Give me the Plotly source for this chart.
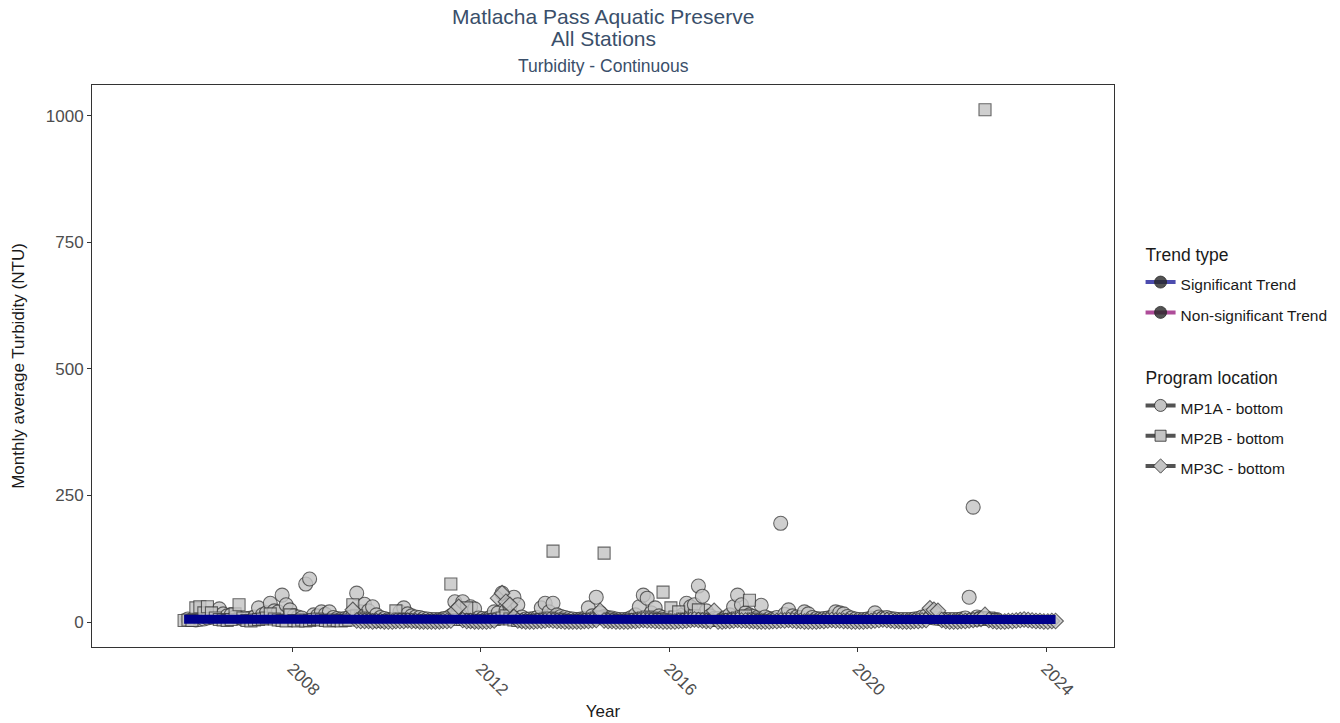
import pandas as pd
import plotly.graph_objects as go

# Monthly average turbidity (NTU) by program location
mp1a_start = "2005-10-01"
mp1a_values = [
    6, 5, 4,
    5, 6, 8, 10, 14, 26, 16, 12, 14, 10, 8, 6,
    7, 8, 10, 28, 14, 18, 37, 22, 20, 53, 34, 24,
    12, 10, 8, 75, 85, 14, 12, 20, 15, 20, 9, 7,
    6, 7, 9, 12, 57, 20, 35, 22, 30, 14, 9, 7,
    5, 5, 6, 20, 28, 16, 12, 10, 9, 7, 6, 5,
    5, 5, 6, 8, 12, 40, 22, 40, 15, 30, 26, 8,
    7, 6, 9, 20, 18, 57, 22, 30, 49, 34, 10, 6,
    6, 7, 9, 28, 37, 20, 37, 14, 11, 9, 7, 6,
    5, 6, 7, 28, 12, 49, 18, 11, 9, 8, 6, 5,
    5, 6, 9, 14, 30, 53, 47, 18, 28, 12, 9, 7,
    7, 6, 9, 14, 37, 30, 34, 71, 51, 22, 12, 7,
    7, 6, 9, 14, 30, 53, 34, 18, 14, 11, 9, 33,
    10, 7, 6, 9, 195, 15, 24, 12, 10, 9, 20, 16,
    9, 7, 6, 7, 8, 10, 20, 18, 16, 11, 8, 6,
    5, 5, 6, 8, 18, 10, 8, 9, 7, 6, 5, 5,
    5, 5, 6, 7, 10, 12, 9, 8, 7, 6, 5, 5,
    5, 5, 6, 8, 49, 227, 10, 8, 7, 6, 5, 5,
]

mp2b_start = "2005-09-01"
mp2b_values = [
    3, 4, 3, 28,
    30, 18, 30, 18, 8, 5, 4, 3, 5, 16, 34, 8,
    3, 2, 4, 5, 6, 8, 16, 6, 4, 3, 2, 14,
    3, 2, 4, 2, 3, 5, 6, 4, 3, 2, 4, 3,
    2, 3, 4, 34, 12, 8, 6, 4, 3, 2, 2, 3,
    3, 4, 22, 6, 5, 4, 3, 3, 2, 2, 3, 3,
    2, 3, 4, 8, 75, 10, 5, 5, 28, 3, 2, 2,
    3, 3, 4, 5, 6, 8, 12, 6, 4, 3, 3, 2,
    3, 3, 4, 5, 6, 8, 140, 6, 4, 3, 3, 2,
    3, 3, 4, 5, 6, 8, 10, 136, 6, 4, 3, 3,
    3, 3, 4, 5, 6, 8, 10, 8, 6, 5, 59, 6,
    28, 10, 20, 6, 5, 8, 12, 24, 6, 4, 3, 3,
    3, 3, 4, 5, 6, 8, 10, 12, 43, 6, 4, 3,
]
mp2b_late_start = "2022-06-01"
mp2b_late_values = [4, 5, 6, 1012, 8, 5]

mp3c_start = "2009-04-01"
mp3c_values = [
    24, 3, 2, 2, 2, 1, 2, 2, 1,
    1, 1, 2, 2, 2, 3, 2, 2, 1, 1, 1, 1,
    1, 1, 2, 2, 3, 22, 30, 4, 2, 2, 1, 1,
    1, 1, 2, 3, 47, 57, 40, 34, 10, 3, 2, 1,
    1, 1, 2, 2, 3, 4, 3, 2, 2, 1, 1, 1,
    1, 1, 2, 2, 3, 4, 22, 3, 2, 2, 1, 1,
    1, 1, 2, 2, 3, 4, 3, 3, 2, 2, 1, 1,
    1, 1, 2, 2, 3, 4, 5, 4, 3, 2, 2, 22,
    1, 1, 2, 2, 3, 4, 3, 3, 2, 2, 1, 1,
    1, 1, 2, 2, 3, 3, 4, 3, 2, 2, 1, 1,
    1, 1, 2, 2, 3, 4, 3, 3, 2, 2, 1, 1,
    1, 1, 2, 2, 3, 4, 5, 4, 3, 2, 2, 1,
    1, 1, 2, 2, 3, 4, 27, 24, 22, 4, 2, 1,
    1, 1, 2, 2, 3, 4, 5, 6, 14, 4, 2, 1,
    1, 1, 2, 2, 3, 4, 5, 4, 3, 2, 2, 1,
    1, 2, 2,
]

# Seasonal Kendall trend (significant), endpoints in NTU
trend_dates = ["2005-09-15", "2024-03-15"]
trend_values = [5.4, 4.9]

year_ticks = [2008, 2012, 2016, 2020, 2024]
y_ticks = [0, 250, 500, 750, 1000]

FONT = "Liberation Sans, Arial, sans-serif"
FILL = "#c4c4c4"
EDGE = "#3f3f3f"
TREND_BLUE = "#00008b"
TITLE_COLOR = "#3a4f6a"


def monthly(start, values):
    dates = pd.date_range(start, periods=len(values), freq="MS") + pd.Timedelta(days=14)
    return dates, values


fig = go.Figure()

stations = [
    ("MP1A - bottom", "circle", 14, [monthly(mp1a_start, mp1a_values)]),
    ("MP2B - bottom", "square", 12, [monthly(mp2b_start, mp2b_values),
                                      monthly(mp2b_late_start, mp2b_late_values)]),
    ("MP3C - bottom", "diamond", 12, [monthly(mp3c_start, mp3c_values)]),
]

for name, symbol, size, parts in stations:
    xs, ys = [], []
    for d, v in parts:
        xs.extend(list(d))
        ys.extend(v)
    fig.add_trace(go.Scatter(
        x=xs, y=ys, mode="markers", name=name, showlegend=False,
        marker=dict(symbol=symbol, size=size, color=FILL, opacity=0.8,
                    line=dict(color=EDGE, width=1.1)),
        hoverinfo="x+y",
    ))

fig.add_trace(go.Scatter(
    x=pd.to_datetime(trend_dates), y=trend_values, mode="lines",
    line=dict(color=TREND_BLUE, width=9), showlegend=False, hoverinfo="skip",
))


def label(text):
    return f'<span style="font-size:15.5px">{text}</span>'


# Legend entries
legend_entries = [
    ("Trend type", "Significant Trend", "rgba(0,0,139,0.7)", "circle", "rgba(40,40,40,0.8)", 12),
    ("Trend type", "Non-significant Trend", "rgba(139,0,110,0.7)", "circle", "rgba(40,40,40,0.8)", 12),
    ("Program location", "MP1A - bottom", "rgba(40,40,40,0.8)", "circle", FILL, 12),
    ("Program location", "MP2B - bottom", "rgba(40,40,40,0.8)", "square", FILL, 11),
    ("Program location", "MP3C - bottom", "rgba(40,40,40,0.8)", "diamond", FILL, 11),
]
for group, name, lcolor, symbol, mcolor, msize in legend_entries:
    fig.add_trace(go.Scatter(
        x=[None], y=[None], mode="lines+markers", name=label(name),
        legendgroup=group,
        legendgrouptitle=dict(text=group, font=dict(size=17.5, color="#1a1a1a", family=FONT)),
        line=dict(color=lcolor, width=4),
        marker=dict(symbol=symbol, size=msize, color=mcolor,
                    line=dict(color="rgba(40,40,40,0.8)", width=1)),
    ))

fig.update_layout(
    width=1340, height=723,
    margin=dict(l=92, r=226, t=85, b=76, autoexpand=False),
    paper_bgcolor="white", plot_bgcolor="white",
    font=dict(family=FONT, color="#1a1a1a"),
    legend=dict(
        x=1.026, xanchor="left", y=0.731, yanchor="top",
        font=dict(size=21, family=FONT, color="#1a1a1a"),
        tracegroupgap=37, bgcolor="rgba(0,0,0,0)",
    ),
    xaxis=dict(
        type="date",
        range=["2003-10-02", "2025-06-11"],
        tickvals=[pd.Timestamp(f"{y}-01-01") for y in year_ticks],
        ticktext=[str(y) for y in year_ticks],
        tickangle=45,
        ticks="outside", ticklen=4, tickcolor="#333333", tickwidth=1,
        tickfont=dict(size=17, color="#4d4d4d", family=FONT),
        showgrid=False, zeroline=False, automargin=False,
        showline=True, mirror=True, linecolor="#333333", linewidth=1,
        title=dict(text="Year", font=dict(size=17, color="#1a1a1a", family=FONT), standoff=6),
    ),
    yaxis=dict(
        range=[-49.4, 1061],
        tickvals=y_ticks,
        ticks="outside", ticklen=4, tickcolor="#333333", tickwidth=1,
        tickfont=dict(size=17, color="#4d4d4d", family=FONT),
        showgrid=False, zeroline=False, automargin=False,
        showline=True, mirror=True, linecolor="#333333", linewidth=1,
        title=dict(text="Monthly average Turbidity (NTU)",
                   font=dict(size=17, color="#1a1a1a", family=FONT), standoff=16),
    ),
    annotations=[
        dict(text="Matlacha Pass Aquatic Preserve", xref="paper", yref="paper",
             x=0.5, y=1.0, yshift=69, xanchor="center", yanchor="middle", showarrow=False,
             font=dict(size=21, color=TITLE_COLOR, family=FONT)),
        dict(text="All Stations", xref="paper", yref="paper",
             x=0.5, y=1.0, yshift=47, xanchor="center", yanchor="middle", showarrow=False,
             font=dict(size=21, color=TITLE_COLOR, family=FONT)),
        dict(text="Turbidity - Continuous", xref="paper", yref="paper",
             x=0.5, y=1.0, yshift=19, xanchor="center", yanchor="middle", showarrow=False,
             font=dict(size=17.5, color=TITLE_COLOR, family=FONT)),
    ],
)

fig.write_html("out.html")
